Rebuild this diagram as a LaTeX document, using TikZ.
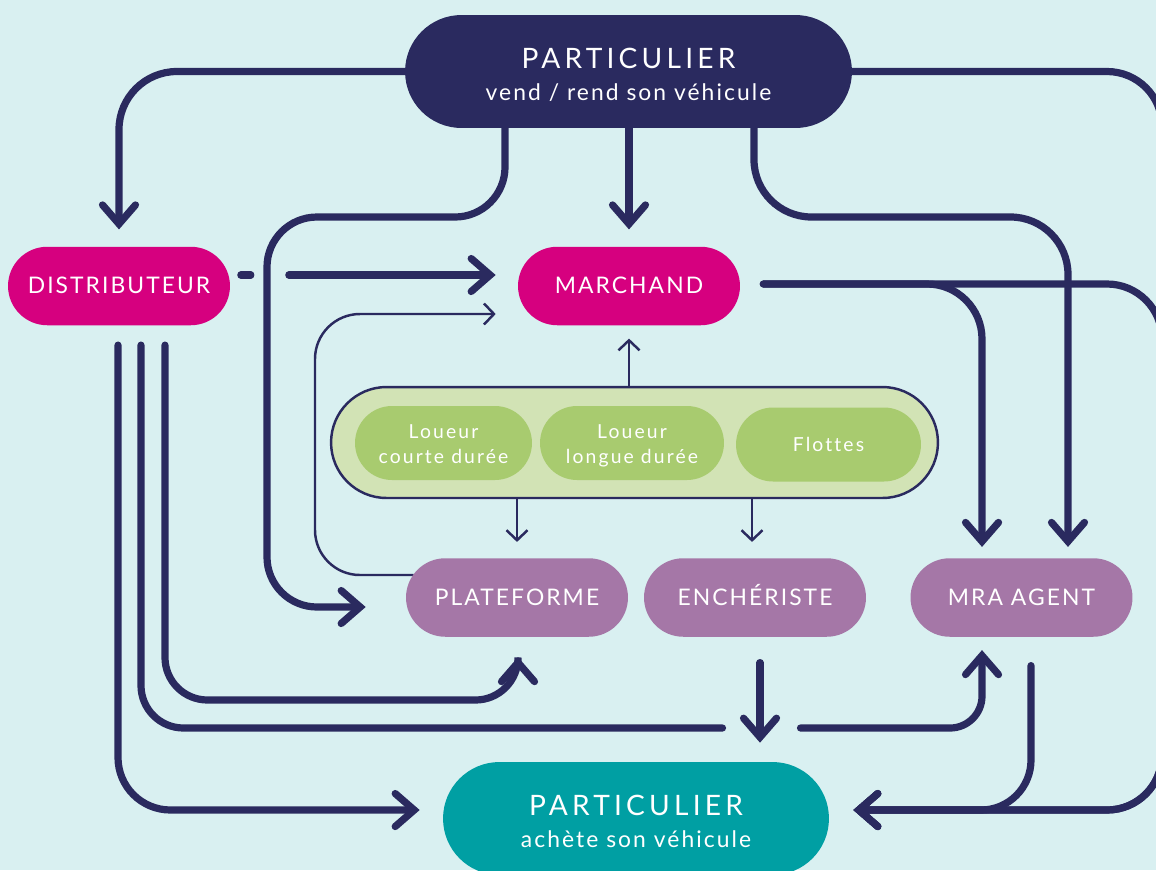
\documentclass[tikz,border=0pt]{standalone}
\usepackage{fontspec}
\setmainfont{Lato}[Ligatures=NoCommon]
\usetikzlibrary{arrows.meta}
\definecolor{bgc}{HTML}{D9F0F1}
\definecolor{navy}{HTML}{2A2A5F}
\definecolor{magenta}{HTML}{D6007F}
\definecolor{purp}{HTML}{A577A7}
\definecolor{teal}{HTML}{009FA3}
\definecolor{lgreen}{HTML}{D2E3B5}
\definecolor{mgreen}{HTML}{A8CB6F}
\pgfdeclarelayer{bgl}
\pgfdeclarelayer{lines}
\pgfsetlayers{bgl,lines,main}
\newcommand{\bigtitle}[2]{\rule{0pt}{17.3pt}{\addfontfeature{LetterSpace=15}#1}\\{\fontsize{13}{18.2}\selectfont\addfontfeature{LetterSpace=9}#2}\rule[-3pt]{0pt}{3pt}}
\newcommand{\twoline}[2]{\rule{0pt}{12pt}#1\\#2\rule[-2.4pt]{0pt}{2.4pt}}
\tikzset{
  pill/.style={rectangle, inner sep=0pt, text=white, align=center},
  big/.style={pill, minimum height=2.26cm, rounded corners=1.13cm, font=\fontsize{16}{18.2}\selectfont},
  box/.style={pill, minimum width=4.44cm, minimum height=1.57cm, rounded corners=0.785cm, text height=9.3pt, text depth=0.6pt, font=\fontsize{13}{15}\selectfont\addfontfeature{LetterSpace=9}},
  inner/.style={pill, fill=mgreen, minimum height=1.48cm, rounded corners=0.74cm, font=\fontsize{11}{14.2}\selectfont\addfontfeature{LetterSpace=11}},
  thickline/.style={draw=navy, line width=4.1pt, line cap=round},
  thickarrow/.style={thickline, -{Straight Barb[length=0.38cm, width=0.66cm, line cap=round, line join=miter]}},
  thinline/.style={draw=navy, line width=1.4pt},
  thinarrow/.style={thinline, -{Straight Barb[length=0.2cm, width=0.42cm, line join=miter]}},
}
\begin{document}
\begin{tikzpicture}[x=0.02cm, y=-0.02cm]
\useasboundingbox (0,0) rectangle (1156,870);
\begin{pgfonlayer}{bgl}
\fill[bgc] (0,0) rectangle (1156,870);
\end{pgfonlayer}

\node[big, fill=navy, minimum width=8.94cm] (top) at (628.5,71.5)
  {\bigtitle{PARTICULIER}{vend / rend son véhicule}};
\node[big, fill=teal, minimum width=7.72cm] (bot) at (636,818.5)
  {\bigtitle{PARTICULIER}{achète son véhicule}};
\node[box, fill=magenta] (dist) at (119,286) {DISTRIBUTEUR};
\node[box, fill=magenta] (march) at (629,286) {MARCHAND};
\node[box, fill=purp] (plat) at (517,597.5) {PLATEFORME};
\node[box, fill=purp] (ench) at (755,597.5) {ENCHÉRISTE};
\node[box, fill=purp] (mra) at (1021.5,597.5) {MRA AGENT};
\node[pill, fill=lgreen, draw=navy, line width=1.4pt, minimum width=12.14cm, minimum height=2.22cm, rounded corners=1.11cm] (cont) at (634.5,442.5) {};
\node[inner, minimum width=3.54cm] (lcd) at (443.5,443) {\twoline{Loueur}{courte durée}};
\node[inner, minimum width=3.68cm] (lld) at (632,443) {\twoline{Loueur}{longue durée}};
\node[inner, minimum width=3.70cm, text height=8pt, text depth=0pt] (flo) at (828.5,444.5) {Flottes};

\coordinate (g1) at (722.5,728);
\coordinate (g2) at (800.5,728);

\begin{pgfonlayer}{lines}
% from top
\draw[thickarrow, rounded corners=1.16cm, shorten >=0.34cm] (top.west) -| (dist.north);
\draw[thickarrow, rounded corners=1cm] ([xshift=-2.47cm]top.south) -- (505,217) -- (267,217) -- (267,607) -- ([xshift=-0.8cm,yshift=-0.19cm]plat.west);
\draw[thickarrow, shorten >=0.34cm] (top.south -| march.north) -- (march.north);
\draw[thickarrow, rounded corners=1.15cm, shorten >=0.22cm] ([xshift=2.51cm]top.south) -- (754,217) -- (1068,217) -- ([xshift=0.93cm]mra.north);
\draw[thickarrow, rounded corners=1.1cm, shorten >=0.48cm] (top.east) -- (1162,71.5) -- (1162,810) -- ([yshift=0.17cm]bot.east);
% from marchand
\draw[thickarrow, rounded corners=1.1cm, shorten >=0.22cm] ([xshift=0.46cm,yshift=0.04cm]march.east) -- (982,284) -- ([xshift=-0.79cm]mra.north);
\draw[thickarrow, rounded corners=1.1cm, shorten >=0.48cm] ([xshift=0.46cm,yshift=0.04cm]march.east) -- (1162,284) -- (1162,810) -- ([yshift=0.17cm]bot.east);
% distributeur -> marchand
\draw[thickarrow, dash pattern=on 0.2cm off 0.76cm on 30cm, shorten >=0.44cm] ([xshift=0.21cm,yshift=0.22cm]dist.east) -- ([yshift=0.22cm]march.west);
% plateforme -> marchand (thin)
\draw[thinarrow, rounded corners=0.9cm, shorten >=0.44cm] ([xshift=0.16cm,yshift=0.45cm]plat.west) -- (315,575) -- (315,314) -- ([yshift=-0.56cm]march.west);
% distributeur down lines
\draw[thickarrow, rounded corners=0.85cm, shorten >=0.4cm] ([xshift=0.92cm,yshift=-0.39cm]dist.south) -- (165,700) -- (518,700) -- ([xshift=0.02cm]plat.south);
\draw[thickline, rounded corners=0.85cm] ([xshift=0.44cm,yshift=-0.39cm]dist.south) -- (141,728) -- (g1);
\draw[thickarrow, rounded corners=0.64cm, shorten >=0.26cm] (g2) -- (982,728) -- ([xshift=-0.79cm]mra.south);
\draw[thickarrow, rounded corners=1.05cm, shorten >=0.46cm] ([xshift=-0.02cm,yshift=-0.39cm]dist.south) -- (118,810) -- ([yshift=0.17cm]bot.west);
% encheriste -> particulier
\draw[thickarrow, shorten >=0.38cm] ([xshift=0.1cm,yshift=-0.51cm]ench.south) -- ([xshift=0.1cm]ench.south |- bot.north);
% mra -> particulier
\draw[thickarrow, rounded corners=1cm, shorten >=0.48cm] ([xshift=0.19cm,yshift=-0.57cm]mra.south) -- (1031,810) -- ([yshift=0.17cm]bot.east);
% container thin arrows
\draw[thinarrow, shorten >=0.26cm] (cont.north -| march.south) -- (march.south);
\draw[thinarrow, shorten >=0.32cm] (cont.south -| plat.north) -- (plat.north);
\draw[thinarrow, shorten >=0.32cm] ([xshift=-0.06cm]cont.south -| ench.north) -- ([xshift=-0.06cm]ench.north);
\end{pgfonlayer}
\end{tikzpicture}
\end{document}
